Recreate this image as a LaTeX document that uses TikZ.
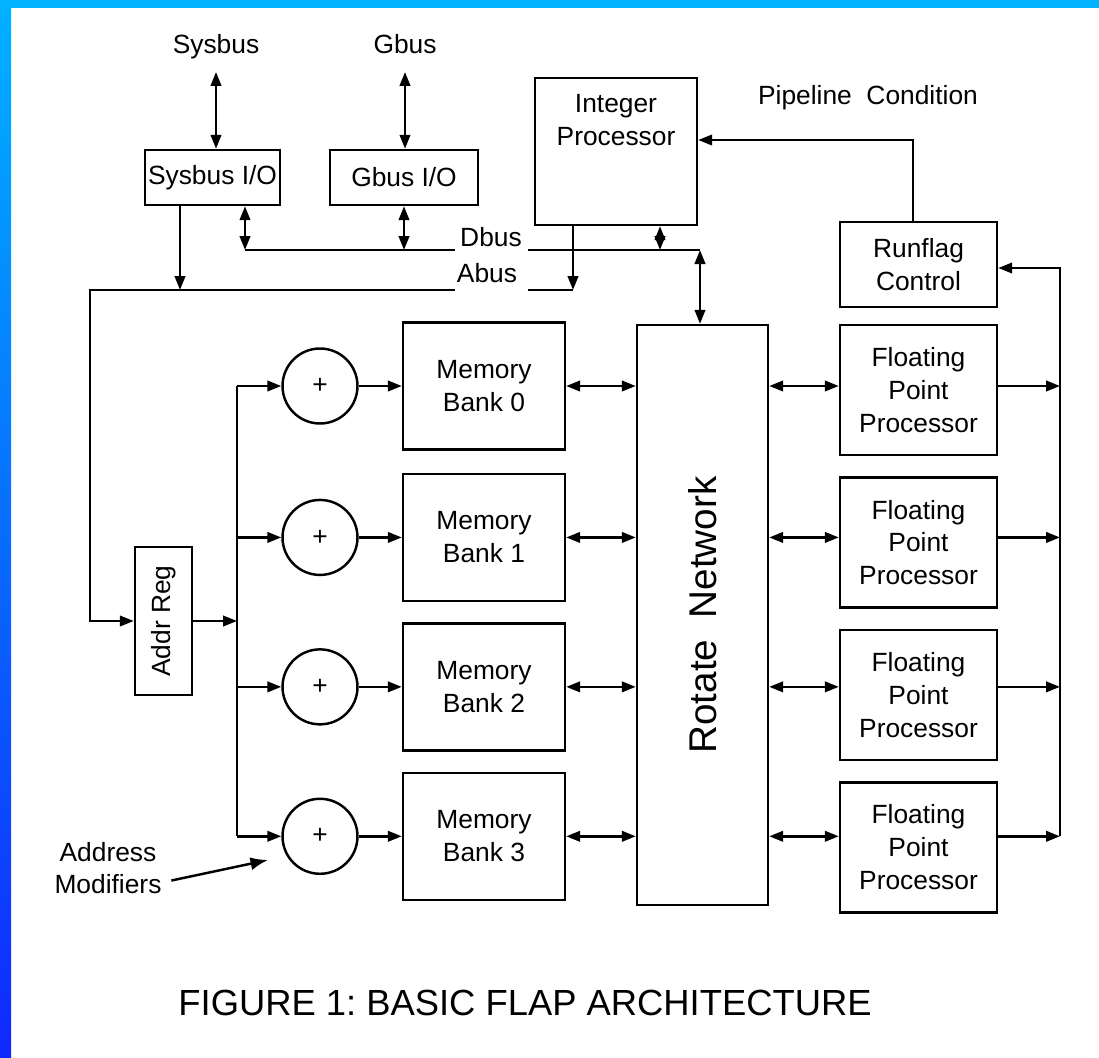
\documentclass[tikz,border=0pt]{standalone}
\usepackage{fontspec}
\setmainfont{Liberation Sans}
\usetikzlibrary{arrows.meta,positioning,shapes.geometric}
\definecolor{framecyan}{RGB}{0,178,255}
\definecolor{frameblue}{RGB}{16,40,255}

\begin{document}
\begin{tikzpicture}[
  x=0.02cm, y=-0.02cm,
  line width=1.4pt,
  font=\fontsize{15}{18.7}\selectfont,
  box/.style={draw,align=center,inner sep=0pt},
  adder/.style={draw,circle,minimum size=1.5cm,inner sep=0pt},
  lbl/.style={inner sep=1pt,align=center},
  arrow/.style={-{Triangle[length=2.8mm,width=2.1mm]}},
  dbl/.style={{Triangle[length=2.8mm,width=2.1mm]}-{Triangle[length=2.8mm,width=2.1mm]}}
]
% page and frame
\useasboundingbox (0,0) rectangle (1099,1058);
\fill[white] (0,0) rectangle (1099,1058);
\shade[top color=framecyan,bottom color=frameblue] (0,0) rectangle (11,1058);
\fill[framecyan] (0,0) rectangle (1099,8);

% top row
\node[lbl,anchor=base] (sysbus) at (216,53) {Sysbus};
\node[lbl,anchor=base] (gbus) at (405,53) {Gbus};
\node[box,minimum width=2.7cm,minimum height=1.1cm] (sysio) at (212.5,177.5) {Sysbus I/O};
\node[box,minimum width=2.96cm,minimum height=1.1cm] (gbio) at (404,177.5) {Gbus I/O};
\node[box,minimum width=3.24cm,minimum height=2.94cm] (intp) at (616,151.5) {};
\node[lbl] (intptext) at (616,120) {Integer\\Processor};
\node[lbl] (pipe) at (868,98) {Pipeline\ \ Condition};
\node[box,minimum width=3.14cm,minimum height=1.7cm] (runf) at (918.5,264.5) {Runflag\\Control};
\node[lbl] (dbus) at (491,237) {Dbus};
\node[lbl] (abus) at (487,273) {Abus};

% address path
\node[box,minimum width=1.14cm,minimum height=2.96cm] (addr) at (163.5,621) {\rotatebox{90}{Addr Reg}};
\node[adder] (add0) at (320,386) {+};
\node[box,minimum width=3.24cm,minimum height=2.54cm] (bank0) at (484,386) {Memory\\Bank 0};
\node[box,minimum width=3.24cm,minimum height=2.54cm,below=0.44cm of bank0] (bank1) {Memory\\Bank 1};
\node[box,minimum width=3.24cm,minimum height=2.54cm,below=0.4cm of bank1] (bank2) {Memory\\Bank 2};
\node[box,minimum width=3.24cm,minimum height=2.54cm,below=0.4cm of bank2] (bank3) {Memory\\Bank 3};
\node[adder] (add1) at (add0 |- bank1) {+};
\node[adder] (add2) at (add0 |- bank2) {+};
\node[adder] (add3) at (add0 |- bank3) {+};
\node[lbl] (amod) at (108,868) {Address\\Modifiers};

% rotate network and floating point
\node[box,minimum width=2.62cm,minimum height=11.6cm,font=\fontsize{22}{26}\selectfont] (rot) at (702.5,615) {\rotatebox{90}{Rotate\ \ Network}};
\node[box,minimum width=3.14cm,minimum height=2.6cm] (fpp0) at (918.5,390) {Floating\\Point\\Processor};
\node[box,minimum width=3.14cm,minimum height=2.6cm,below=0.4cm of fpp0] (fpp1) {Floating\\Point\\Processor};
\node[box,minimum width=3.14cm,minimum height=2.6cm,below=0.4cm of fpp1] (fpp2) {Floating\\Point\\Processor};
\node[box,minimum width=3.14cm,minimum height=2.6cm,below=0.4cm of fpp2] (fpp3) {Floating\\Point\\Processor};

\node[font=\fontsize{20.7}{24}\selectfont] (caption) at (525,1003) {FIGURE 1:\ BASIC FLAP ARCHITECTURE};

% bus points
\coordinate (dA) at (245,250);
\coordinate (dB) at (455,250);
\coordinate (dC) at (528,250);
\coordinate (dI) at (660,250);
\coordinate (dJ) at (700,250);
\coordinate (aL) at (90,290);
\coordinate (aS) at (180,290);
\coordinate (aB) at (455,290);
\coordinate (aC) at (528,290);
\coordinate (aI) at (573,290);
\coordinate (fan) at (237,621);
\coordinate (rb) at (1060,268);
\coordinate (pc) at (913,140);
\coordinate (amtip) at (268,860);

% external buses
\draw[dbl] (sysbus.south |- 0,72) -- (sysbus |- sysio.north);
\draw[dbl] (gbus.south |- 0,72) -- (gbus |- gbio.north);

% Dbus
\draw (dA) -- (dB);
\draw (dC) -- (dJ);
\draw[dbl] (sysio.south -| dA) -- (dA);
\draw[dbl] (gbio) -- (gbio |- dA);
\draw[dbl] (intp.south -| dI) -- (dI);
\draw[dbl] (dJ) -- (rot.north -| dJ);

% Abus
\draw (aC) -- (aI);
\draw[arrow] (sysio.south -| aS) -- (aS);
\draw[arrow] (intp.south -| aI) -- (aI);
\draw[arrow] (aB) -- (aL) |- (addr.west);

% address fan out
\draw[arrow] (addr.east) -- (fan);
\draw (add0.west -| fan) -- (add3.west -| fan);
\draw[arrow] (add0.west -| fan) -- (add0.west);
\draw[arrow] (add1.west -| fan) -- (add1.west);
\draw[arrow] (add2.west -| fan) -- (add2.west);
\draw[arrow] (add3.west -| fan) -- (add3.west);
\draw[arrow] (add0.east) -- (add0.east -| bank0.west);
\draw[arrow] (add1.east) -- (add1.east -| bank1.west);
\draw[arrow] (add2.east) -- (add2.east -| bank2.west);
\draw[arrow] (add3.east) -- (add3.east -| bank3.west);
\draw[-{Latex[length=3.5mm]},shorten <=4pt] (amod.east |- 0,882) -- (amtip);

% banks to rotate network to processors
\draw[dbl] (bank0.east) -- (bank0.east -| rot.west);
\draw[dbl] (bank1.east) -- (bank1.east -| rot.west);
\draw[dbl] (bank2.east) -- (bank2.east -| rot.west);
\draw[dbl] (bank3.east) -- (bank3.east -| rot.west);
\draw[dbl] (rot.east |- bank0) -- (fpp0.west |- bank0);
\draw[dbl] (rot.east |- bank1) -- (fpp1.west |- bank1);
\draw[dbl] (rot.east |- bank2) -- (fpp2.west |- bank2);
\draw[dbl] (rot.east |- bank3) -- (fpp3.west |- bank3);

% runflags
\draw[arrow] (fpp0.east |- bank0) -- (rb |- bank0);
\draw[arrow] (fpp1.east |- bank1) -- (rb |- bank1);
\draw[arrow] (fpp2.east |- bank2) -- (rb |- bank2);
\draw[arrow] (fpp3.east |- bank3) -- (rb |- bank3);
\draw[arrow] (rb |- bank3) -- (rb) -- (runf.east |- rb);
\draw[arrow] (runf.north -| pc) -- (pc) -- (intp.east |- pc);
\end{tikzpicture}
\end{document}
